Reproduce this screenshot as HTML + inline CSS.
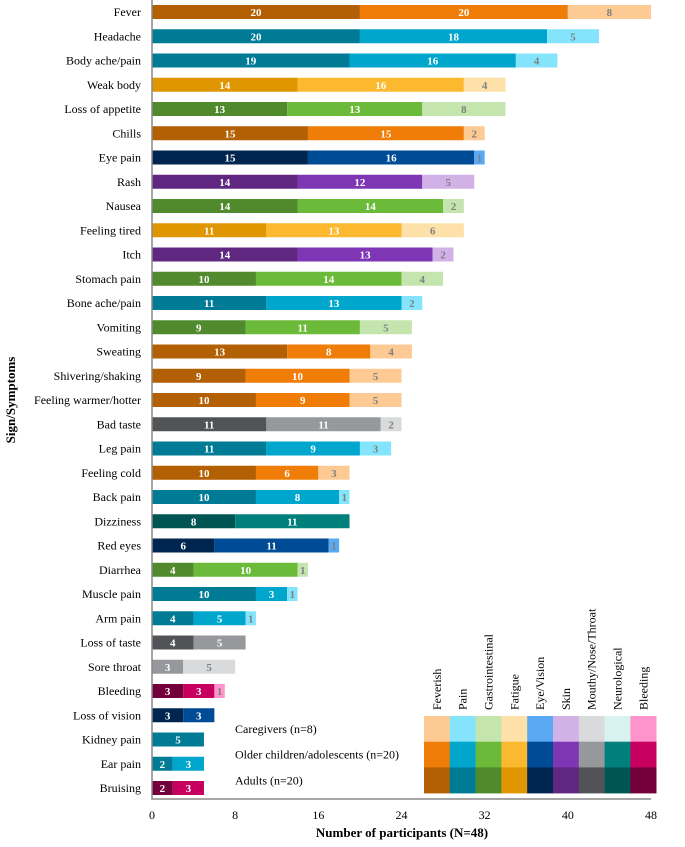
<!DOCTYPE html>
<html><head><meta charset="utf-8"><style>
body{margin:0;background:#fff}
svg text{font-family:"Liberation Serif",serif}
</style></head><body>
<svg id="c" width="685" height="842" xmlns="http://www.w3.org/2000/svg"></svg>
<script>
const categories=["Fever","Headache","Body ache/pain","Weak body","Loss of appetite","Chills","Eye pain","Rash","Nausea","Feeling tired","Itch","Stomach pain","Bone ache/pain","Vomiting","Sweating","Shivering/shaking","Feeling warmer/hotter","Bad taste","Leg pain","Feeling cold","Back pain","Dizziness","Red eyes","Diarrhea","Muscle pain","Arm pain","Loss of taste","Sore throat","Bleeding","Loss of vision","Kidney pain","Ear pain","Bruising"];
const groups=["F","P","P","Fa","G","F","E","S","G","Fa","S","G","P","G","F","F","F","M","P","F","P","N","E","G","P","P","M","M","B","E","P","P","B"];
const adults=[20,20,19,14,13,15,15,14,14,11,14,10,11,9,13,9,10,11,11,10,10,8,6,4,10,4,4,0,3,3,5,2,2];
const older=[20,18,16,16,13,15,16,12,14,13,13,14,13,11,8,10,9,11,9,6,8,11,11,10,3,5,5,3,3,3,0,3,3];
const caregivers=[8,5,4,4,8,2,1,5,2,6,2,4,2,5,4,5,5,2,3,3,1,0,1,1,1,1,0,5,1,0,0,0,0];
const xTicks=[0,8,16,24,32,40,48];
const legendCats=["Feverish","Pain","Gastrointestinal","Fatigue","Eye/Vision","Skin","Mouthy/Nose/Throat","Neurological","Bleeding"];
const legendKeys=["F","P","G","Fa","E","S","M","N","B"];
const colors={F:["#b35f04","#ef7d07","#fdca94"],P:["#007b96","#00a6cc","#84e4fc"],G:["#508a2c","#6cba3a","#c4e5ae"],Fa:["#df9600","#fcb82f","#fde1a8"],E:["#002650","#004b95","#5aa9f5"],S:["#5f2780","#7f36b4","#d2b1e6"],M:["#515357","#96989c","#d9dadb"],N:["#005552","#00807c","#d8f2ef"],B:["#73003a","#c7005f","#fe94cb"]};
const svg=document.getElementById('c');const NS="http://www.w3.org/2000/svg";
const x0=152,sx=(651-152)/48,y0=12,dy=24.25,bh=14;
const X=v=>x0+v*sx, Y=i=>y0+i*dy;
function mk(t,a,p){const e=document.createElementNS(NS,t);for(const k in a)e.setAttribute(k,a[k]);(p||svg).appendChild(e);return e;}
categories.forEach((c,i)=>{
 const t=mk('text',{x:141,y:Y(i)+4,'text-anchor':'end','font-size':12,fill:'#000'});t.textContent=c;
 
 
 const vals=[adults[i],older[i],caregivers[i]];let acc=0;
 vals.forEach((v,k)=>{if(!v)return;
  const r=mk('rect',{x:X(acc),y:Y(i)-bh/2,width:X(acc+v)-X(acc),height:bh,fill:colors[groups[i]][k]});
  
  
  const l=mk('text',{x:(X(acc)+X(acc+v))/2,y:Y(i)+4,'text-anchor':'middle','font-size':11,'font-weight':'bold',fill:k==2?'#7f7f7f':'#fff'});l.textContent=v;
  
  
  acc+=v;});
});
const ax=mk('path',{d:`M${x0} 0V799H651`,stroke:'#888',fill:'none','stroke-width':1.5});


xTicks.forEach(v=>{const t=mk('text',{x:X(v),y:819,'text-anchor':'middle','font-size':12});t.textContent=v;
 
 });
let t=mk('text',{x:402,y:837,'text-anchor':'middle','font-size':13,'font-weight':'bold'});t.textContent="Number of participants (N=48)";


t=mk('text',{x:0,y:0,'text-anchor':'middle','font-size':13,'font-weight':'bold',transform:'translate(15,400) rotate(-90)'});t.textContent="Sign/Symptoms";


const lx=424,cw=25.8,ly=716,rh=25.7;
legendKeys.forEach((k,j)=>{
 [2,1,0].forEach((s,r)=>{const e=mk('rect',{x:lx+j*cw,y:ly+r*rh,width:cw+0.3,height:rh+0.3,fill:colors[k][s]});
  
  });
 const tt=mk('text',{x:0,y:0,'font-size':12,transform:`translate(${lx+j*cw+cw/2+4},710) rotate(-90)`});tt.textContent=legendCats[j];
 
 
});
["Caregivers (n=8)","Older children/adolescents (n=20)","Adults (n=20)"].forEach((s,r)=>{const e=mk('text',{x:235,y:ly+r*rh+17,'font-size':12});e.textContent=s;
 
 });
</script>
</body></html>
